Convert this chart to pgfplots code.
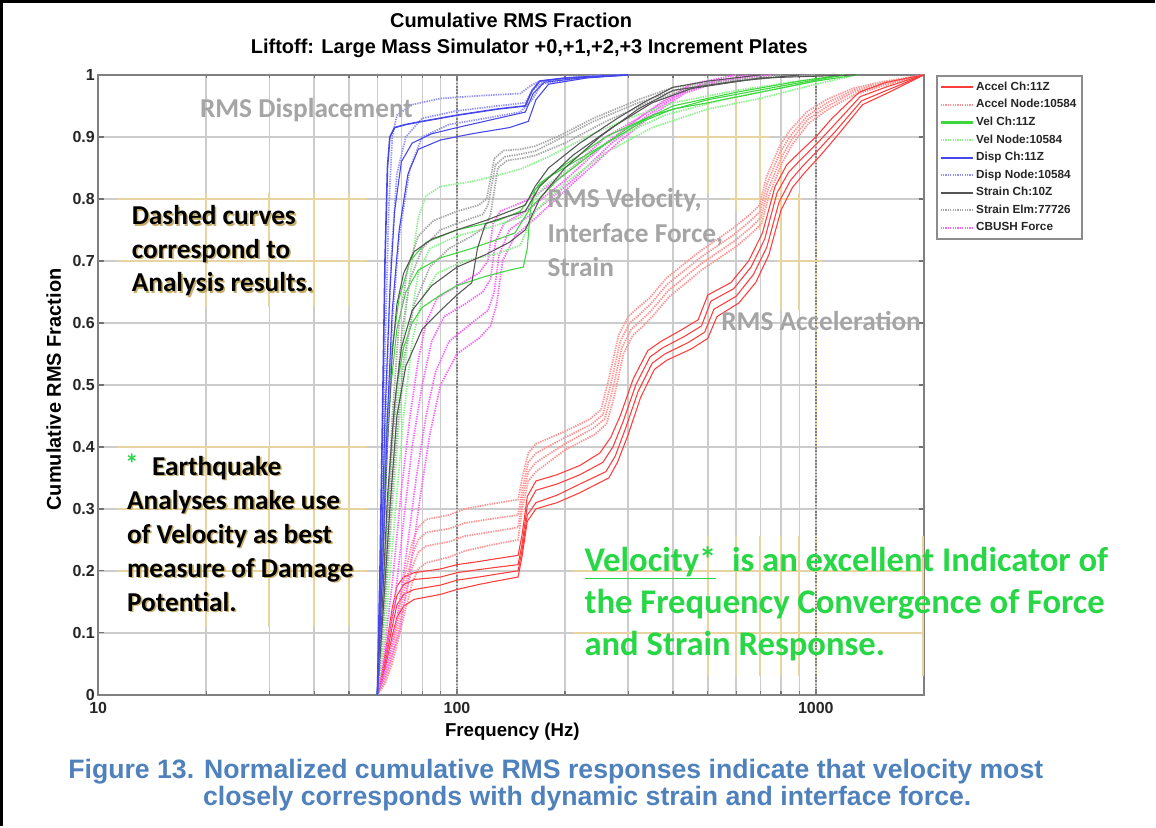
\documentclass[border=0pt]{standalone}
\usepackage{fontspec}
\setmainfont{Liberation Sans}
\newfontfamily\calib{Carlito}
\usepackage{pgfplots}
\pgfplotsset{compat=1.18}

\definecolor{accS}{RGB}{255,60,60}
\definecolor{accD}{RGB}{255,145,145}
\definecolor{velS}{RGB}{60,215,60}
\definecolor{velD}{RGB}{140,240,140}
\definecolor{dispS}{RGB}{70,70,235}
\definecolor{dispD}{RGB}{145,145,250}
\definecolor{strS}{RGB}{85,85,85}
\definecolor{strD}{RGB}{165,165,165}
\definecolor{cbush}{RGB}{250,100,250}
\definecolor{capblue}{RGB}{79,129,189}
\definecolor{vgreen}{RGB}{40,215,70}
\definecolor{lblgray}{RGB}{165,165,165}
\definecolor{shtan}{RGB}{200,175,110}
\definecolor{hltan}{RGB}{232,212,160}

\tikzset{
  sol/.style={line width=0.8pt},
  dsh/.style={line width=1.3pt, dash pattern=on 1pt off 0.8pt},
  tanl/.style={hltan, line width=1.6pt}
}

\newcommand\annfont{\calib\bfseries\fontsize{20.5}{25}\selectfont}
\newcommand\shtxt[3]{%
  \node[anchor=base west, inner sep=0, text=shtan, font=\annfont] at ({#1+1.6},{#2+1.6}) {#3};
  \node[anchor=base west, inner sep=0, text=black, font=\annfont] at (#1,#2) {#3};}
\newcommand\graytxt[3]{%
  \node[anchor=base west, inner sep=0, text=lblgray, font=\annfont] at (#1,#2) {#3};}
\newcommand\greentxt[3]{%
  \node[anchor=base west, inner sep=0, text=vgreen, font=\calib\bfseries\fontsize{26}{31}\selectfont] at (#1,#2) {#3};}

\begin{document}
\begin{tikzpicture}
\begin{scope}[shift={(-73.725pt,521.775pt)}, x=0.75pt, y=-0.75pt]
  \useasboundingbox (0,0) rectangle (1156,827);
  \fill[white] (0,0) rectangle (1156,827);
\end{scope}

\begin{axis}[
  scale only axis, width=620.025pt, height=465.525pt,
  xmode=log, log basis x=10,
  xmin=10, xmax=2000, ymin=0, ymax=1,
  xtick={10,100,1000}, xticklabels={10,100,1000},
  minor xtick={20,30,40,50,60,70,80,90,200,300,400,500,600,700,800,900},
  ytick={0,0.1,0.2,0.3,0.4,0.5,0.6,0.7,0.8,0.9,1},
  yticklabels={0,0.1,0.2,0.3,0.4,0.5,0.6,0.7,0.8,0.9,1},
  /pgf/number format/assume math mode=true,
  tick label style={font=\bfseries\fontsize{12}{14}\selectfont, text=black!85, inner sep=0.8pt},
  xticklabel style={yshift=-5pt},
  yticklabel style={xshift=-1.6pt},
  grid=both,
  major grid style={draw=black!20, line width=1.1pt},
  minor grid style={draw=black!20, line width=1.1pt},
  tick align=inside,
  major tick length=4pt, minor tick length=2.5pt,
  tick style={black!55, line width=1pt},
  axis line style={black!50, line width=1.5pt},
  no markers,
  legend style={at={(1.0145,1)}, anchor=north west, draw=black!45, line width=1.5pt,
    fill=white, font=\bfseries\fontsize{8.8}{10}\selectfont, text=black!85,
    row sep=0pt, inner xsep=2pt, inner ysep=2pt,
    nodes={inner sep=1.8pt, text height=7pt, text depth=2.6pt}},
  legend cell align=left,
  legend image code/.code={\draw[#1] (0cm,0cm) -- (0.85cm,0cm);},
]
% tan highlight artefacts on the grid
\draw[tanl] (axis cs:11.3,0.8) -- (axis cs:56,0.8);
\draw[tanl] (axis cs:11.3,0.7) -- (axis cs:56,0.7);
\draw[tanl] (axis cs:11.3,0.4) -- (axis cs:56,0.4);
\draw[tanl] (axis cs:11.3,0.3) -- (axis cs:56,0.3);
\draw[tanl] (axis cs:11.3,0.2) -- (axis cs:56,0.2);
\draw[tanl] (axis cs:20,0.625) -- (axis cs:20,0.81);
\draw[tanl] (axis cs:30,0.625) -- (axis cs:30,0.81);
\draw[tanl] (axis cs:40,0.625) -- (axis cs:40,0.81);
\draw[tanl] (axis cs:50,0.625) -- (axis cs:50,0.81);
\draw[tanl] (axis cs:20,0.11) -- (axis cs:20,0.40);
\draw[tanl] (axis cs:30,0.11) -- (axis cs:30,0.40);
\draw[tanl] (axis cs:40,0.11) -- (axis cs:40,0.40);
\draw[tanl] (axis cs:50,0.11) -- (axis cs:50,0.40);
\draw[tanl] (axis cs:210,0.2) -- (axis cs:2000,0.2);
\draw[tanl] (axis cs:210,0.1) -- (axis cs:2000,0.1);
\draw[tanl] (axis cs:500,0.03) -- (axis cs:500,0.256);
\draw[tanl] (axis cs:600,0.03) -- (axis cs:600,0.256);
\draw[tanl] (axis cs:700,0.03) -- (axis cs:700,0.256);
\draw[tanl] (axis cs:800,0.03) -- (axis cs:800,0.256);
\draw[tanl] (axis cs:900,0.03) -- (axis cs:900,0.256);
\draw[tanl] (axis cs:1000,0.03) -- (axis cs:1000,0.256);
\draw[tanl] (axis cs:1990,0.03) -- (axis cs:1990,0.256);
\draw[tanl] (axis cs:500,0.81) -- (axis cs:500,0.965);
\draw[tanl] (axis cs:600,0.78) -- (axis cs:600,0.965);
\draw[tanl] (axis cs:700,0.75) -- (axis cs:700,0.965);
\draw[tanl] (axis cs:800,0.62) -- (axis cs:800,0.88);
\draw[tanl] (axis cs:900,0.62) -- (axis cs:900,0.81);
\draw[tanl] (axis cs:1000,0.4) -- (axis cs:1000,0.73);
\draw[tanl] (axis cs:409,0.9) -- (axis cs:743,0.9);
\draw[tanl] (axis cs:575,0.8) -- (axis cs:916,0.8);
\draw[tanl] (axis cs:778,0.7) -- (axis cs:1040,0.7);
% major x grid lines (darker, dotted)
\draw[black!50, line width=1.1pt, dash pattern=on 1.2pt off 1.2pt] (axis cs:100,0) -- (axis cs:100,1);
\draw[black!50, line width=1.1pt, dash pattern=on 1.2pt off 1.2pt] (axis cs:1000,0) -- (axis cs:1000,1);

% ---------------- Acceleration, analysis (dashed) ----------------
\addplot[forget plot, accD, dsh] coordinates {(60,0) (63,0.03) (66,0.08) (69,0.14) (72,0.2) (75,0.245) (78,0.27) (82,0.283) (95,0.29) (105,0.3) (125,0.308) (148,0.315) (152,0.35) (158,0.39) (166,0.405) (200,0.425) (235,0.445) (252,0.46) (265,0.51) (282,0.58) (300,0.61) (320,0.625) (344,0.64) (383,0.672) (474,0.715) (586,0.752) (653,0.774) (697,0.79) (728,0.835) (793,0.885) (845,0.91) (942,0.94) (1070,0.96) (1264,0.978) (1534,0.989) (2000,1)};
\addplot[forget plot, accD, dsh] coordinates {(60,0) (63,0.025) (66,0.07) (69,0.125) (72,0.18) (75,0.225) (78,0.25) (82,0.262) (95,0.268) (105,0.277) (125,0.284) (148,0.29) (152,0.33) (158,0.375) (166,0.39) (200,0.415) (238,0.437) (255,0.452) (268,0.5) (285,0.57) (303,0.6) (322,0.613) (346,0.63) (385,0.662) (476,0.705) (590,0.742) (656,0.764) (700,0.78) (732,0.825) (797,0.876) (850,0.902) (947,0.934) (1075,0.955) (1270,0.975) (1540,0.987) (2000,1)};
\addplot[forget plot, accD, dsh] coordinates {(60,0) (63,0.02) (66,0.06) (69,0.11) (72,0.16) (75,0.205) (78,0.23) (82,0.24) (95,0.247) (105,0.256) (125,0.263) (148,0.27) (152,0.315) (158,0.36) (166,0.375) (200,0.405) (240,0.43) (258,0.445) (271,0.49) (288,0.56) (306,0.59) (325,0.603) (348,0.62) (388,0.652) (478,0.695) (593,0.732) (660,0.754) (703,0.77) (736,0.815) (800,0.866) (855,0.895) (950,0.928) (1080,0.95) (1275,0.972) (1545,0.985) (2000,1)};
\addplot[forget plot, accD, dsh] coordinates {(60,0) (63,0.018) (66,0.05) (69,0.095) (72,0.14) (75,0.18) (78,0.203) (82,0.213) (95,0.222) (105,0.232) (125,0.242) (148,0.25) (152,0.3) (158,0.345) (166,0.36) (200,0.395) (242,0.42) (261,0.437) (274,0.48) (291,0.55) (309,0.58) (328,0.593) (350,0.61) (390,0.642) (480,0.685) (596,0.722) (664,0.745) (706,0.76) (740,0.805) (805,0.858) (860,0.888) (955,0.922) (1085,0.945) (1280,0.968) (1550,0.983) (2000,1)};

% ---------------- Acceleration, test (solid) ----------------
\addplot[forget plot, accS, sol] coordinates {(60,0) (62,0.04) (64,0.09) (66,0.14) (68,0.175) (71,0.19) (76,0.197) (90,0.203) (100,0.21) (115,0.215) (130,0.22) (148,0.225) (152,0.26) (157,0.32) (166,0.345) (190,0.355) (220,0.37) (250,0.39) (268,0.415) (285,0.45) (310,0.51) (340,0.555) (370,0.57) (420,0.588) (470,0.605) (500,0.645) (580,0.665) (650,0.7) (710,0.745) (770,0.82) (830,0.855) (900,0.875) (1000,0.9) (1110,0.93) (1320,0.972) (1570,0.988) (2000,1)};
\addplot[forget plot, accS, sol] coordinates {(60,0) (62,0.035) (64,0.08) (66,0.125) (68,0.16) (71,0.178) (76,0.186) (90,0.19) (100,0.197) (115,0.202) (130,0.206) (148,0.21) (152,0.245) (157,0.305) (166,0.33) (190,0.34) (220,0.355) (255,0.375) (272,0.4) (290,0.44) (315,0.5) (345,0.545) (375,0.56) (430,0.578) (480,0.595) (510,0.635) (590,0.655) (660,0.69) (720,0.735) (780,0.81) (840,0.843) (910,0.864) (1010,0.89) (1120,0.918) (1330,0.965) (1580,0.981) (2000,1)};
\addplot[forget plot, accS, sol] coordinates {(60,0) (62,0.03) (64,0.07) (66,0.11) (68,0.145) (71,0.162) (76,0.17) (90,0.177) (100,0.185) (115,0.19) (130,0.195) (148,0.2) (152,0.235) (157,0.29) (166,0.31) (190,0.322) (220,0.34) (260,0.36) (276,0.385) (295,0.43) (320,0.49) (350,0.535) (380,0.55) (440,0.568) (490,0.585) (520,0.622) (600,0.643) (670,0.678) (730,0.722) (790,0.795) (850,0.83) (920,0.853) (1020,0.88) (1130,0.908) (1340,0.958) (1590,0.976) (2000,1)};
\addplot[forget plot, accS, sol] coordinates {(60,0) (62,0.025) (64,0.06) (66,0.095) (68,0.125) (71,0.143) (76,0.154) (90,0.162) (100,0.17) (115,0.178) (130,0.184) (148,0.19) (152,0.225) (157,0.28) (166,0.3) (190,0.31) (220,0.326) (265,0.35) (280,0.375) (300,0.42) (325,0.48) (355,0.525) (385,0.54) (450,0.558) (500,0.575) (530,0.61) (610,0.632) (680,0.665) (740,0.71) (800,0.782) (860,0.818) (930,0.842) (1030,0.87) (1140,0.9) (1350,0.952) (1600,0.972) (2000,1)};

% ---------------- CBUSH force (dashed) ----------------
\addplot[forget plot, cbush, dsh] coordinates {(60,0) (63,0.08) (66,0.18) (70,0.33) (74,0.45) (78,0.54) (82,0.6) (88,0.64) (100,0.66) (115,0.68) (122,0.7) (126,0.76) (132,0.78) (160,0.8) (200,0.84) (260,0.9) (320,0.93) (380,0.96) (450,0.985) (600,1)};
\addplot[forget plot, cbush, dsh] coordinates {(60,0) (63,0.06) (67,0.15) (71,0.28) (75,0.4) (80,0.5) (85,0.57) (92,0.61) (105,0.63) (118,0.65) (124,0.67) (128,0.73) (135,0.76) (160,0.785) (200,0.83) (260,0.89) (330,0.935) (400,0.965) (480,0.985) (650,1)};
\addplot[forget plot, cbush, dsh] coordinates {(60,0) (64,0.05) (68,0.12) (72,0.22) (77,0.35) (82,0.45) (87,0.52) (95,0.57) (110,0.6) (122,0.62) (127,0.65) (131,0.71) (140,0.75) (165,0.78) (210,0.83) (270,0.89) (340,0.935) (420,0.97) (520,0.99) (700,1)};
\addplot[forget plot, cbush, dsh] coordinates {(60,0) (64,0.04) (69,0.1) (74,0.2) (79,0.32) (84,0.42) (90,0.5) (100,0.55) (115,0.575) (124,0.595) (129,0.63) (134,0.7) (145,0.74) (170,0.775) (215,0.83) (280,0.89) (350,0.935) (430,0.97) (540,0.99) (750,1)};

% ---------------- Velocity, analysis (dashed) ----------------
\addplot[forget plot, velD, dsh] coordinates {(60,0) (63,0.15) (66,0.35) (69,0.5) (72,0.62) (75,0.7) (78,0.77) (82,0.805) (90,0.82) (110,0.828) (130,0.838) (150,0.848) (180,0.868) (230,0.9) (300,0.93) (400,0.955) (600,0.975) (900,0.99) (1200,1)};
\addplot[forget plot, velD, dsh] coordinates {(60,0) (63,0.12) (66,0.3) (70,0.48) (74,0.6) (78,0.68) (84,0.72) (100,0.74) (125,0.755) (150,0.77) (175,0.82) (220,0.86) (280,0.9) (380,0.935) (550,0.96) (900,0.985) (1200,1)};
\addplot[forget plot, velD, dsh] coordinates {(60,0) (63,0.1) (67,0.28) (71,0.45) (75,0.57) (80,0.64) (88,0.68) (105,0.7) (130,0.712) (150,0.725) (165,0.78) (200,0.825) (260,0.875) (350,0.915) (500,0.945) (700,0.962) (1000,0.985) (1300,1)};

% ---------------- Velocity, test (solid) ----------------
\addplot[forget plot, velS, sol] coordinates {(60,0) (62,0.15) (64,0.3) (66,0.42) (68,0.5) (71,0.56) (75,0.6) (80,0.625) (90,0.645) (100,0.66) (120,0.675) (140,0.685) (153,0.69) (157,0.72) (160,0.78) (165,0.815) (180,0.835) (220,0.865) (270,0.895) (330,0.925) (400,0.945) (500,0.955) (700,0.972) (1000,0.99) (1300,1)};
\addplot[forget plot, velS, sol] coordinates {(60,0) (61.5,0.2) (63.5,0.38) (65.5,0.5) (68,0.59) (72,0.65) (78,0.685) (90,0.705) (110,0.72) (130,0.735) (145,0.745) (160,0.785) (190,0.83) (240,0.875) (300,0.915) (400,0.95) (600,0.972) (900,0.99) (1200,1)};
\addplot[forget plot, velS, sol] coordinates {(60,0) (61.5,0.22) (63.5,0.42) (66,0.56) (69,0.64) (74,0.7) (82,0.73) (100,0.75) (130,0.765) (150,0.78) (170,0.825) (200,0.855) (260,0.9) (350,0.935) (500,0.96) (800,0.982) (1200,1)};

% ---------------- Strain, analysis (dashed) ----------------
\addplot[forget plot, strD, dsh] coordinates {(60,0) (63,0.2) (66,0.45) (69,0.6) (73,0.69) (78,0.74) (86,0.765) (100,0.78) (115,0.79) (121,0.8) (127,0.865) (135,0.878) (150,0.88) (165,0.885) (190,0.9) (240,0.93) (320,0.96) (400,0.98) (550,0.99) (800,1)};
\addplot[forget plot, strD, dsh] coordinates {(60,0) (63,0.17) (66,0.4) (70,0.58) (74,0.67) (80,0.72) (90,0.75) (105,0.765) (118,0.775) (122,0.79) (128,0.855) (136,0.868) (150,0.872) (165,0.877) (190,0.895) (240,0.925) (320,0.955) (420,0.978) (600,0.99) (900,1)};
\addplot[forget plot, strD, dsh] coordinates {(60,0) (63,0.15) (67,0.38) (71,0.54) (76,0.63) (84,0.69) (95,0.72) (110,0.74) (120,0.755) (124,0.775) (130,0.85) (138,0.862) (150,0.865) (165,0.87) (200,0.89) (260,0.925) (340,0.955) (450,0.98) (700,0.995) (1000,1)};

% ---------------- Strain, test (solid) ----------------
\addplot[forget plot, strS, sol] coordinates {(60,0) (62,0.2) (64,0.4) (66,0.55) (68,0.63) (71,0.68) (76,0.715) (85,0.735) (100,0.75) (120,0.765) (140,0.78) (155,0.79) (165,0.82) (180,0.85) (220,0.89) (280,0.93) (330,0.955) (400,0.98) (500,0.99) (700,1)};
\addplot[forget plot, strS, sol] coordinates {(60,0) (62,0.15) (64,0.32) (67,0.47) (70,0.56) (75,0.62) (85,0.66) (100,0.69) (120,0.71) (140,0.73) (155,0.75) (170,0.8) (200,0.85) (250,0.9) (320,0.945) (400,0.975) (600,0.99) (900,1)};
\addplot[forget plot, strS, sol] coordinates {(60,0) (62,0.12) (65,0.3) (68,0.45) (72,0.53) (80,0.59) (90,0.62) (100,0.645) (110,0.665) (114,0.72) (120,0.76) (135,0.77) (155,0.78) (170,0.82) (210,0.87) (270,0.915) (350,0.955) (450,0.978) (700,0.995) (1300,1)};

% ---------------- Displacement, analysis (dashed) ----------------
\addplot[forget plot, dispD, dsh] coordinates {(60,0) (61.5,0.25) (63,0.55) (64.5,0.78) (66,0.9) (68,0.935) (75,0.952) (90,0.962) (120,0.967) (150,0.97) (160,0.982) (170,0.99) (220,0.997) (300,1)};
\addplot[forget plot, dispD, dsh] coordinates {(60,0) (62,0.22) (63.5,0.48) (65.5,0.7) (68,0.84) (72,0.9) (80,0.93) (100,0.942) (130,0.95) (155,0.955) (162,0.975) (175,0.99) (250,1)};
\addplot[forget plot, dispD, dsh] coordinates {(60,0) (62,0.2) (64,0.42) (66,0.6) (69,0.74) (74,0.85) (80,0.9) (95,0.92) (120,0.93) (150,0.94) (162,0.96) (172,0.985) (230,0.997) (300,1)};

% ---------------- Displacement, test (solid) ----------------
\addplot[forget plot, dispS, line width=1.2pt] coordinates {(60,0) (61,0.2) (62,0.45) (63,0.7) (64,0.85) (65,0.9) (67,0.915) (72,0.92) (80,0.925) (100,0.935) (130,0.945) (155,0.95) (162,0.975) (170,0.99) (200,0.995) (250,0.998) (300,1)};
\addplot[forget plot, dispS, sol] coordinates {(60,0) (61.5,0.2) (63,0.45) (65,0.65) (67,0.78) (70,0.86) (75,0.89) (85,0.905) (100,0.915) (130,0.93) (155,0.94) (163,0.97) (175,0.988) (220,0.995) (300,1)};
\addplot[forget plot, dispS, sol] coordinates {(60,0) (62,0.2) (64,0.45) (66,0.62) (69,0.75) (73,0.84) (78,0.88) (90,0.895) (110,0.905) (140,0.915) (158,0.925) (166,0.96) (180,0.985) (230,0.995) (300,1)};

% ---------------- legend ----------------
\addlegendimage{accS, line width=1.6pt}
\addlegendentry{Accel Ch:11Z}
\addlegendimage{accD, line width=1.6pt, dash pattern=on 1pt off 0.8pt}
\addlegendentry{Accel Node:10584}
\addlegendimage{velS, line width=1.6pt}
\addlegendentry{Vel Ch:11Z}
\addlegendimage{velD, line width=1.6pt, dash pattern=on 1pt off 0.8pt}
\addlegendentry{Vel Node:10584}
\addlegendimage{dispS, line width=1.6pt}
\addlegendentry{Disp Ch:11Z}
\addlegendimage{dispD, line width=1.6pt, dash pattern=on 1pt off 0.8pt}
\addlegendentry{Disp Node:10584}
\addlegendimage{strS, line width=1.6pt}
\addlegendentry{Strain Ch:10Z}
\addlegendimage{strD, line width=1.6pt, dash pattern=on 1pt off 0.8pt}
\addlegendentry{Strain Elm:77726}
\addlegendimage{cbush, line width=1.6pt, dash pattern=on 1pt off 0.8pt}
\addlegendentry{CBUSH Force}
\end{axis}

\begin{scope}[shift={(-73.725pt,521.775pt)}, x=0.75pt, y=-0.75pt]
  % outer frame
  \draw[black, line width=2.2pt] (1.5,827) -- (1.5,1.5) -- (1156,1.5);
  % title
  \node[font=\bfseries\fontsize{15}{15}\selectfont, anchor=base] at (511.7,28) {Cumulative RMS Fraction};
  \node[font=\bfseries\fontsize{15}{15}\selectfont, anchor=base] at (530,54) {Liftoff: Large Mass Simulator +0,+1,+2,+3 Increment Plates};
  % axis labels
  \node[font=\bfseries\fontsize{14}{14}\selectfont, anchor=base] at (513,737) {Frequency (Hz)};
  \node[font=\bfseries\fontsize{15}{15}\selectfont, rotate=90, anchor=base] at (61,390) {Cumulative RMS Fraction};
  % gray labels
  \graytxt{200}{118}{RMS Displacement}
  \graytxt{548}{208}{RMS Velocity,}
  \graytxt{548}{243}{Interface Force,}
  \graytxt{548}{277}{Strain}
  \graytxt{722}{331}{RMS Acceleration}
  % black annotations
  \shtxt{131.7}{225}{Dashed curves}
  \shtxt{131.7}{258.5}{correspond to}
  \shtxt{131.7}{292}{Analysis results.}
  \node[anchor=base west, inner sep=0, text=vgreen, font=\annfont] at (125,474) {*};
  \shtxt{152}{476}{Earthquake}
  \shtxt{127}{510}{Analyses make use}
  \shtxt{127}{544}{of Velocity as best}
  \shtxt{127}{578}{measure of Damage}
  \shtxt{127}{612}{Potential.}
  % green statement
  \greentxt{585}{572}{\underline{Velocity*}\ \ is an excellent Indicator of}
  \greentxt{585}{614}{the Frequency Convergence of Force}
  \greentxt{585}{656}{and Strain Response.}
  % caption
  \node[font=\bfseries\fontsize{20}{20}\selectfont, text=capblue, anchor=base] at (556.5,779) {Figure 13. Normalized cumulative RMS responses indicate that velocity most};
  \node[font=\bfseries\fontsize{20}{20}\selectfont, text=capblue, anchor=base] at (588,807) {closely corresponds with dynamic strain and interface force.};
\end{scope}
\end{tikzpicture}
\end{document}
